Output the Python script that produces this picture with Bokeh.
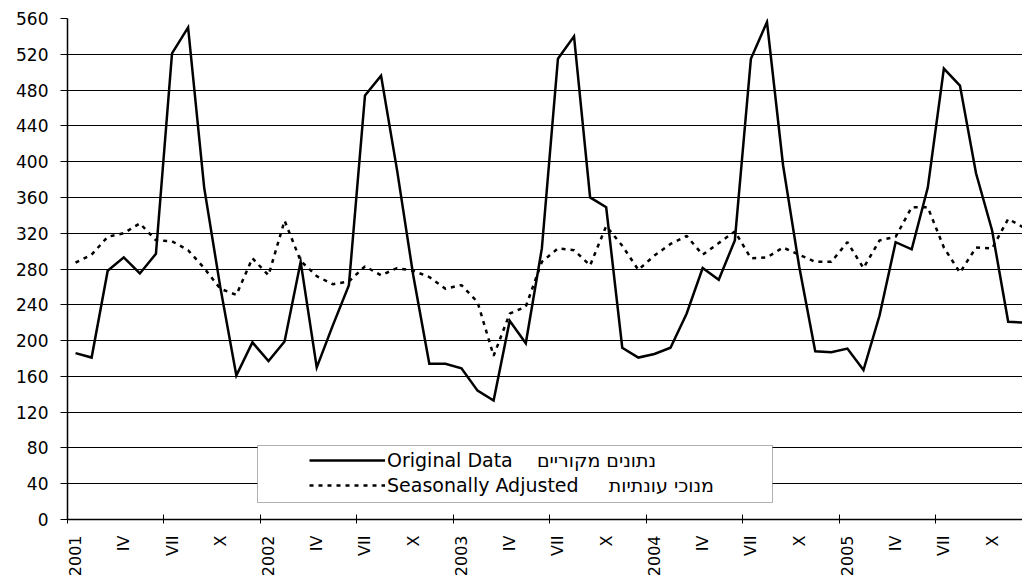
import math
from bokeh.plotting import figure
from bokeh.models import Range1d, FixedTicker, Legend, LegendItem, BoxAnnotation
from bokeh.embed import file_html
from bokeh.resources import INLINE
from bokeh.core.properties import value

# ---- data (monthly, Jan 2001 .. Dec 2005) ----
years = ["2001", "2002", "2003", "2004", "2005"]
quarter_labels = ["IV", "VII", "X"]

original = [186, 181, 278, 293, 275, 297, 521, 550, 371, 260, 161, 198,
            177, 199, 288, 170, 217, 262, 474, 496, 390, 273, 174, 174,
            169, 144, 133, 222, 197, 303, 515, 540, 360, 349, 192, 181,
            185, 192, 230, 281, 268, 312, 515, 556, 396, 283, 188, 187,
            191, 167, 228, 310, 302, 371, 504, 485, 387, 323, 221, 220]

seasonally_adjusted = [287, 296, 316, 320, 331, 312, 311, 301, 281, 258, 251, 292,
                       273, 334, 289, 272, 263, 266, 283, 273, 281, 278, 271, 258,
                       262, 243, 183, 230, 238, 288, 303, 301, 284, 328, 306, 279,
                       295, 308, 317, 296, 309, 322, 292, 293, 304, 296, 288, 288,
                       310, 281, 312, 316, 349, 349, 304, 276, 304, 303, 336, 326]

y_ticks = list(range(0, 561, 40))

label_original = "Original Data\u00a0\u00a0\u00a0\u00a0נתונים מקוריים"
label_adjusted = "Seasonally Adjusted\u00a0\u00a0\u00a0\u00a0\u00a0מנוכי עונתיות"

# ---- derived positions ----
n = len(original)
xs = [i + 0.5 for i in range(n)]

label_positions = []
overrides = {}
for k, yr in enumerate(years):
    for j, lab in zip([0, 3, 6, 9], [yr] + quarter_labels):
        pos = 12 * k + j + 0.5
        label_positions.append(pos)
        overrides[pos] = lab
boundary_ticks = list(range(0, n + 1, 6))

FONT = "DejaVu Sans"

p = figure(width=1022, height=582, output_backend="svg", toolbar_location=None,
           x_range=Range1d(0, 59.39), y_range=Range1d(0, 560),
           min_border_left=67, min_border_right=0, min_border_top=18,
           min_border_bottom=63)
p.outline_line_color = None
p.background_fill_color = "white"
p.border_fill_color = "white"

r1 = p.line(xs, original, line_color="black", line_width=2.5, line_join="miter")
r2 = p.line(xs, seasonally_adjusted, line_color="black", line_width=2.5,
            line_dash="4 5")

# x axis
xa = p.xaxis[0]
xa.ticker = FixedTicker(ticks=label_positions, minor_ticks=boundary_ticks)
xa.major_label_overrides = overrides
xa.major_tick_in = 0
xa.major_tick_out = 0
xa.minor_tick_in = 5
xa.minor_tick_out = 4
xa.minor_tick_line_color = "black"
xa.minor_tick_line_width = 1
xa.major_label_orientation = math.pi / 2
xa.major_label_standoff = 12
xa.major_label_text_font = FONT
xa.major_label_text_font_size = "16px"
xa.major_label_text_color = "black"
xa.axis_line_color = "black"
xa.axis_line_width = 1.5

# y axis
ya = p.yaxis[0]
ya.ticker = FixedTicker(ticks=y_ticks)
ya.major_tick_in = 0
ya.major_tick_out = 7
ya.minor_tick_line_color = None
ya.major_tick_line_color = "black"
ya.major_label_standoff = 12
ya.major_label_text_font = FONT
ya.major_label_text_font_size = "17px"
ya.major_label_text_color = "black"
ya.axis_line_color = "black"
ya.axis_line_width = 1.5

p.xgrid.grid_line_color = None
p.ygrid.ticker = FixedTicker(ticks=y_ticks)
p.ygrid.grid_line_color = "black"
p.ygrid.grid_line_width = 1

# legend frame
box = BoxAnnotation(left=190, right=705, bottom=17, top=74,
                    left_units="screen", right_units="screen",
                    bottom_units="screen", top_units="screen",
                    fill_color="white", fill_alpha=1.0,
                    line_color="black", line_width=1)
p.add_layout(box)

legend = Legend(items=[LegendItem(label=value(label_original), renderers=[r1]),
                       LegendItem(label=value(label_adjusted), renderers=[r2])],
                location=(242, 23), orientation="vertical",
                padding=0, margin=0, spacing=3,
                glyph_width=76, glyph_height=20, label_height=22,
                label_standoff=2,
                border_line_color=None, background_fill_alpha=0,
                label_text_font=FONT, label_text_font_size="19px",
                label_text_color="black")
p.add_layout(legend)

open("out.html", "w").write(file_html(p, INLINE))
